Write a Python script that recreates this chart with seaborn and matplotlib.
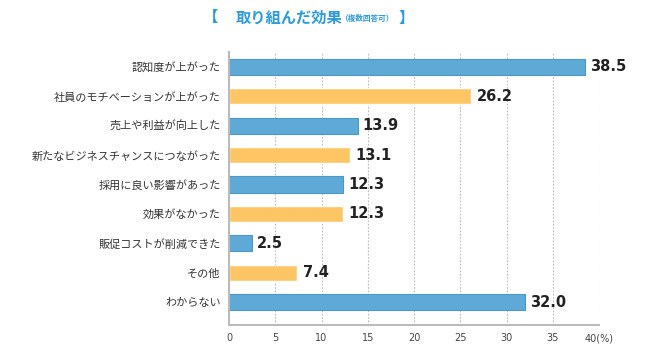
import pandas as pd
import seaborn as sns
import matplotlib.pyplot as plt

# データ
categories = ['認知度が上がった', '社員のモチベーションが上がった', '売上や利益が向上した',
              '新たなビジネスチャンスにつながった', '採用に良い影響があった', '効果がなかった',
              '販促コストが削減できた', 'その他', 'わからない']
values = [38.5, 26.2, 13.9, 13.1, 12.3, 12.3, 2.5, 7.4, 32.0]
xticks = [0, 5, 10, 15, 20, 25, 30, 35, 40]
xticklabels = ['0', '5', '10', '15', '20', '25', '30', '35', '40(%)']

blue = '#5fa9d6'
orange = '#fec564'

df = pd.DataFrame({'cat': categories, 'val': values})
df['grp'] = ['a' if i % 2 == 0 else 'b' for i in range(len(df))]

sns.set_style('white')
plt.rcParams['font.family'] = ['Noto Sans CJK JP', 'DejaVu Sans']

fig = plt.figure(figsize=(6.55, 3.64), dpi=100)
ax = fig.add_axes([0.3496, 0.107, 0.565, 0.75])

sns.barplot(data=df, x='val', y='cat', hue='grp', palette={'a': blue, 'b': orange},
            dodge=False, legend=False, width=0.55, ax=ax, saturation=1)
for i, p in enumerate(ax.patches):
    fc = p.get_facecolor()
    if abs(fc[0] - 0.37) < 0.05:
        p.set_edgecolor('#4b98c8')
        p.set_linewidth(0.8)

# 値ラベル
for i, v in enumerate(values):
    ax.text(v + 0.55, i, f'{v:.1f}', va='center', ha='left', fontsize=10.5,
            fontweight='bold', color='#222222', family='DejaVu Sans')

ax.set_xlim(0, 40)
ax.set_ylim(8.78, -0.5)
ax.set_xticks(xticks)
ax.set_xticklabels(xticklabels, fontsize=7, color='#444444', family='DejaVu Sans')
ax.tick_params(axis='x', length=0, pad=6)
ax.tick_params(axis='y', length=0, pad=6, labelsize=8, labelcolor='#333333')
ax.set_xlabel('')
ax.set_ylabel('')
ax.xaxis.grid(True, linestyle=(0, (1.5, 1.5)), color='#bbbbbb', linewidth=0.8)
ax.set_axisbelow(True)
for s in ['top', 'right']:
    ax.spines[s].set_visible(False)
for s in ['left', 'bottom']:
    ax.spines[s].set_color('#bbbbbb')
    ax.spines[s].set_linewidth(1.5)

# タイトル
tc = '#2e9ad6'
fig.text(0.321, 0.952, '【', fontsize=11, fontweight='bold', color=tc, ha='center', va='center')
fig.text(0.441, 0.952, '取り組んだ効果', fontsize=11, fontweight='bold', color=tc, ha='center', va='center')
fig.text(0.561, 0.948, '（複数回答可）', fontsize=5.5, fontweight='bold', color=tc, ha='center', va='center')
fig.text(0.62, 0.952, '】', fontsize=11, fontweight='bold', color=tc, ha='center', va='center')

fig.savefig('out.png', dpi=100)
